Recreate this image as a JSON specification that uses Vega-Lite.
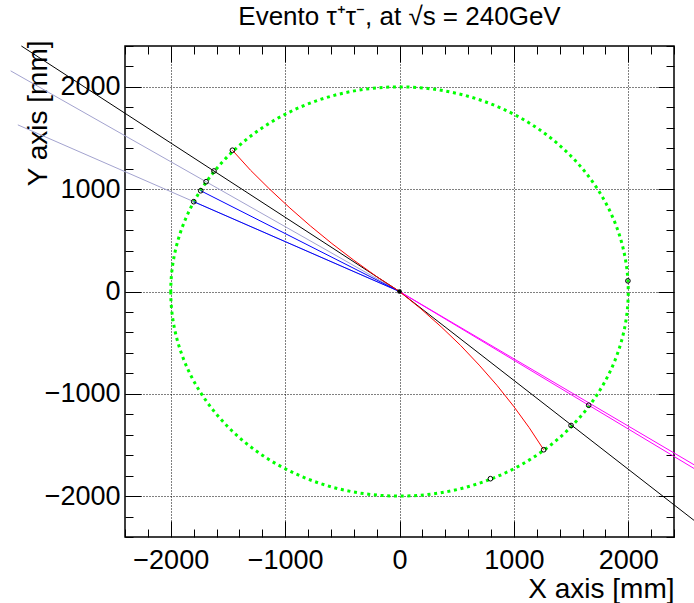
{
  "$schema": "https://vega.github.io/schema/vega-lite/v6.json",
  "width": 549,
  "height": 491,
  "autosize": {"type": "none"},
  "padding": {"left": 125, "top": 46, "right": 20, "bottom": 66},
  "background": "white",
  "config": {
    "view": {"stroke": "black", "strokeWidth": 1.5},
    "font": "Liberation Sans",
    "axis": {
      "domain": false,
      "tickColor": "black",
      "tickWidth": 1,
      "labelColor": "black",
      "labelFont": "Liberation Sans",
      "labelFontSize": 27,
      "titleFont": "Liberation Sans",
      "titleFontSize": 28,
      "titleFontWeight": "normal",
      "titleColor": "black",
      "gridColor": "black",
      "gridDash": [1, 2],
      "gridOpacity": 1,
      "gridWidth": 1,
      "format": "d"
    }
  },
  "title": {
    "text": "Evento τ⁺τ⁻, at √s = 240GeV",
    "font": "Liberation Sans",
    "fontSize": 26,
    "fontWeight": "normal",
    "color": "black",
    "anchor": "middle",
    "offset": 10
  },
  "datasets": {
    "center": [{"x": 0, "y": 0}],
    "ext": [
      {"id": "e1", "i": 0, "x": 0, "y": 0},
      {"id": "e1", "i": 1, "x": -3400, "y": 2157},
      {"id": "e2", "i": 0, "x": 0, "y": 0},
      {"id": "e2", "i": 1, "x": -3337, "y": 1629}
    ],
    "straight": [
      {"id": "k1", "kind": "tau", "i": 0, "x": 0, "y": 0},
      {"id": "k1", "kind": "tau", "i": 1, "x": -3306, "y": 2400},
      {"id": "k2", "kind": "tau", "i": 0, "x": 0, "y": 0},
      {"id": "k2", "kind": "tau", "i": 1, "x": 2600, "y": -2259},
      {"id": "m1", "kind": "missing", "i": 0, "x": 0, "y": 0},
      {"id": "m1", "kind": "missing", "i": 1, "x": 2600, "y": -1747},
      {"id": "m2", "kind": "missing", "i": 0, "x": 0, "y": 0},
      {"id": "m2", "kind": "missing", "i": 1, "x": 2600, "y": -1710},
      {"id": "b1", "kind": "neutral", "i": 0, "x": 0, "y": 0},
      {"id": "b1", "kind": "neutral", "i": 1, "x": -1738, "y": 985},
      {"id": "b2", "kind": "neutral", "i": 0, "x": 0, "y": 0},
      {"id": "b2", "kind": "neutral", "i": 1, "x": -1799, "y": 878}
    ],
    "tracks": [
      {"id": "t1", "i": 0, "x": 0, "y": 0},
      {"id": "t1", "i": 1, "x": -203, "y": 148},
      {"id": "t1", "i": 2, "x": -402, "y": 308},
      {"id": "t1", "i": 3, "x": -591, "y": 469},
      {"id": "t1", "i": 4, "x": -778, "y": 640},
      {"id": "t1", "i": 5, "x": -958, "y": 816},
      {"id": "t1", "i": 6, "x": -1133, "y": 998},
      {"id": "t1", "i": 7, "x": -1302, "y": 1185},
      {"id": "t1", "i": 8, "x": -1461, "y": 1381},
      {"id": "t2", "i": 0, "x": 0, "y": 0},
      {"id": "t2", "i": 1, "x": 187, "y": -169},
      {"id": "t2", "i": 2, "x": 364, "y": -345},
      {"id": "t2", "i": 3, "x": 534, "y": -527},
      {"id": "t2", "i": 4, "x": 697, "y": -720},
      {"id": "t2", "i": 5, "x": 852, "y": -917},
      {"id": "t2", "i": 6, "x": 997, "y": -1121},
      {"id": "t2", "i": 7, "x": 1134, "y": -1331},
      {"id": "t2", "i": 8, "x": 1261, "y": -1547}
    ],
    "hits": [
      {"x": 1997, "y": 104},
      {"x": 795, "y": -1830},
      {"x": 1654, "y": -1112},
      {"x": 1500, "y": -1310},
      {"x": 1261, "y": -1547},
      {"x": -1461, "y": 1381},
      {"x": -1622, "y": 1178},
      {"x": -1691, "y": 1073},
      {"x": -1738, "y": 985},
      {"x": -1799, "y": 878}
    ]
  },
  "layer": [
    {
      "data": {"name": "center"},
      "mark": {
        "type": "point",
        "shape": "M -1 0 A 1 0.8944 0 1 0 1 0 A 1 0.8944 0 1 0 -1 0 Z",
        "size": 209306,
        "filled": false,
        "stroke": "#00ff00",
        "strokeWidth": 3,
        "strokeDash": [3, 3.7],
        "opacity": 1
      },
      "encoding": {
        "x": {
          "field": "x", "type": "quantitative",
          "scale": {"domain": [-2400, 2400], "nice": false, "zero": false},
          "axis": {
            "orient": "bottom",
            "values": [-2000, -1000, 0, 1000, 2000],
            "offset": -16,
            "tickSize": 16,
            "labelPadding": 10,
            "grid": true,
            "title": "X axis [mm]",
            "titleAnchor": "end",
            "titleAlign": "right",
            "titleBaseline": "alphabetic",
            "titleX": 549,
            "titleY": 76
          }
        },
        "y": {
          "field": "y", "type": "quantitative",
          "scale": {"domain": [-2400, 2400], "nice": false, "zero": false},
          "axis": {
            "orient": "left",
            "values": [-2000, -1000, 0, 1000, 2000],
            "offset": -16,
            "tickSize": 16,
            "labelPadding": 5,
            "grid": true,
            "title": "Y axis [mm]",
            "titleAngle": -90,
            "titleAlign": "right",
            "titleBaseline": "alphabetic",
            "titleAnchor": "end",
            "titleX": -95,
            "titleY": -6
          }
        }
      }
    },
    {
      "data": {"name": "ext"},
      "mark": {"type": "line", "stroke": "#a3a3cf", "strokeWidth": 1},
      "encoding": {
        "x": {
          "field": "x", "type": "quantitative",
          "axis": {
            "orient": "bottom",
            "values": [-2400, -2200, -1800, -1600, -1400, -1200, -800, -600, -400, -200, 200, 400, 600, 800, 1200, 1400, 1600, 1800, 2200, 2400],
            "offset": -8,
            "tickSize": 8,
            "labels": false,
            "grid": false,
            "title": null
          }
        },
        "y": {
          "field": "y", "type": "quantitative",
          "axis": {
            "orient": "left",
            "values": [-2400, -2200, -1800, -1600, -1400, -1200, -800, -600, -400, -200, 200, 400, 600, 800, 1200, 1400, 1600, 1800, 2200, 2400],
            "offset": -8,
            "tickSize": 8,
            "labels": false,
            "grid": false,
            "title": null
          }
        },
        "detail": {"field": "id"},
        "order": {"field": "i"}
      }
    },
    {
      "data": {"name": "straight"},
      "mark": {"type": "line", "strokeWidth": 1},
      "encoding": {
        "x": {
          "field": "x", "type": "quantitative",
          "axis": {
            "orient": "top",
            "values": [-2000, -1000, 0, 1000, 2000],
            "offset": -16,
            "tickSize": 16,
            "labels": false,
            "grid": false,
            "title": null
          }
        },
        "y": {
          "field": "y", "type": "quantitative",
          "axis": {
            "orient": "right",
            "values": [-2000, -1000, 0, 1000, 2000],
            "offset": -16,
            "tickSize": 16,
            "labels": false,
            "grid": false,
            "title": null
          }
        },
        "detail": {"field": "id"},
        "order": {"field": "i"},
        "color": {
          "field": "kind", "type": "nominal",
          "scale": {"domain": ["tau", "missing", "neutral"], "range": ["#000000", "#ff00ff", "#0000ff"]},
          "legend": null
        }
      }
    },
    {
      "data": {"name": "tracks"},
      "mark": {"type": "line", "stroke": "#ff0000", "strokeWidth": 1},
      "encoding": {
        "x": {
          "field": "x", "type": "quantitative",
          "axis": {
            "orient": "top",
            "values": [-2400, -2200, -1800, -1600, -1400, -1200, -800, -600, -400, -200, 200, 400, 600, 800, 1200, 1400, 1600, 1800, 2200, 2400],
            "offset": -8,
            "tickSize": 8,
            "labels": false,
            "grid": false,
            "title": null
          }
        },
        "y": {
          "field": "y", "type": "quantitative",
          "axis": {
            "orient": "right",
            "values": [-2400, -2200, -1800, -1600, -1400, -1200, -800, -600, -400, -200, 200, 400, 600, 800, 1200, 1400, 1600, 1800, 2200, 2400],
            "offset": -8,
            "tickSize": 8,
            "labels": false,
            "grid": false,
            "title": null
          }
        },
        "detail": {"field": "id"},
        "order": {"field": "i"}
      }
    },
    {
      "data": {"name": "hits"},
      "mark": {"type": "point", "shape": "circle", "filled": false, "stroke": "black", "strokeWidth": 1, "size": 22, "opacity": 1},
      "encoding": {
        "x": {"field": "x", "type": "quantitative", "axis": null},
        "y": {"field": "y", "type": "quantitative", "axis": null}
      }
    },
    {
      "data": {"name": "center"},
      "mark": {"type": "point", "shape": "circle", "filled": true, "color": "black", "size": 22, "opacity": 1},
      "encoding": {
        "x": {"field": "x", "type": "quantitative", "axis": null},
        "y": {"field": "y", "type": "quantitative", "axis": null}
      }
    }
  ],
  "resolve": {"axis": {"x": "independent", "y": "independent"}}
}
